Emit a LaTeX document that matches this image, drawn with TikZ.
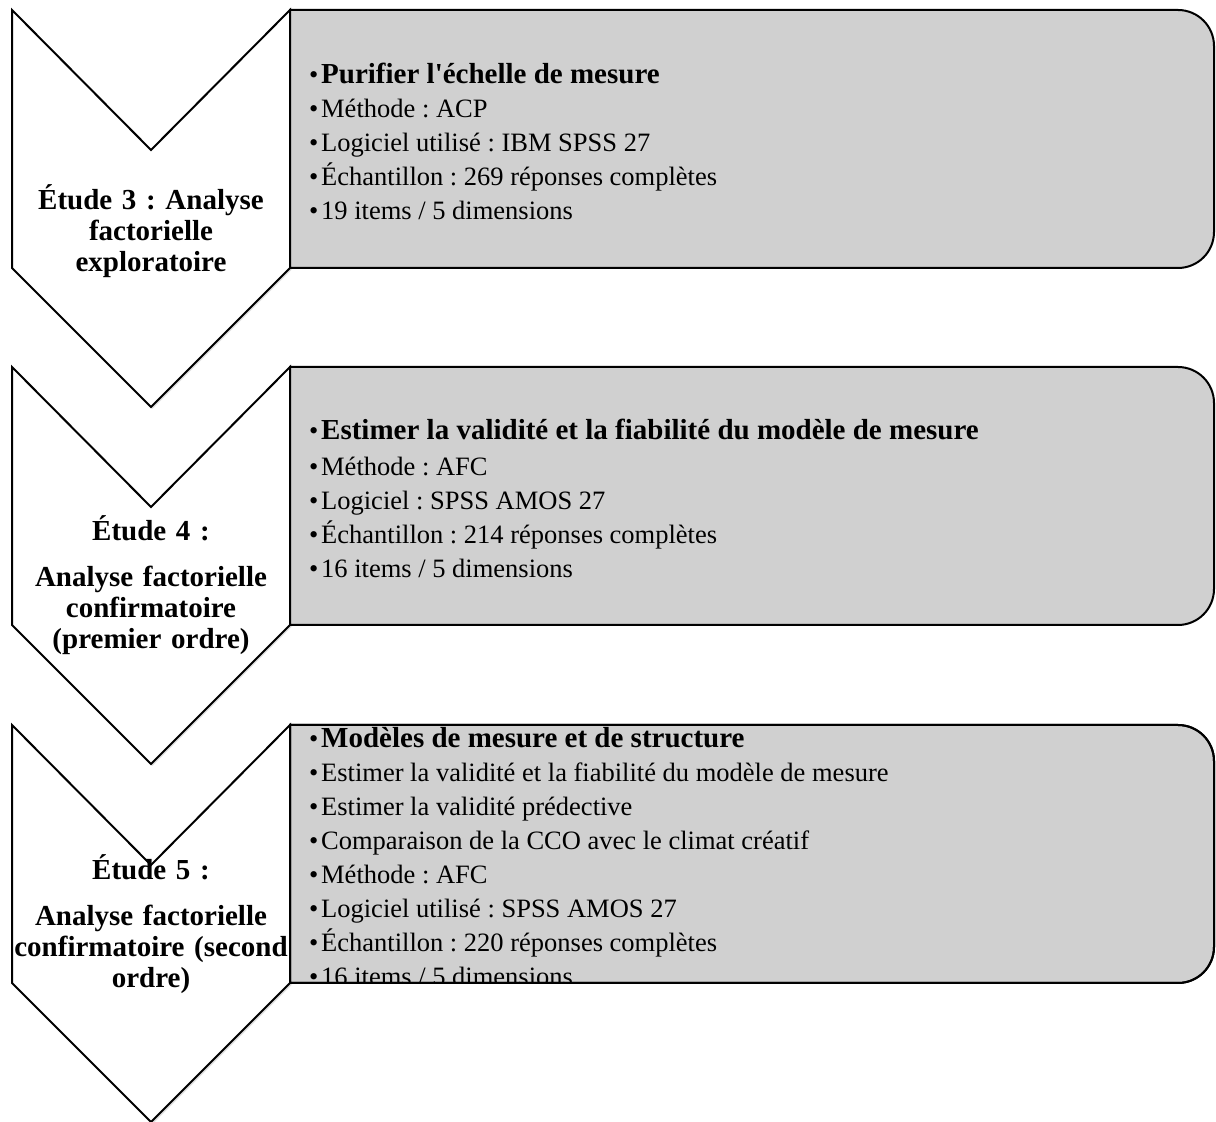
\documentclass[tikz,border=0pt]{standalone}
\usepackage{fontspec}
\setmainfont{Liberation Serif}
\usetikzlibrary{shadows}

\definecolor{boxgray}{RGB}{208,208,208}
\newcommand{\puce}[1]{\makebox[12pt][l]{\textbullet}#1}
\newcommand{\titre}[1]{\makebox[12pt][l]{\textbullet}{\bfseries\fontsize{29}{34}\selectfont #1}}
\newcommand{\boitechemin}[1]{(290,#1) -- (1178,#1) arc[start angle=90,end angle=0,radius=36pt] -- (1214,#1-222) arc[start angle=0,end angle=-90,radius=36pt] -- (290,#1-258) -- cycle}

\begin{document}
\frenchspacing
\begin{tikzpicture}[x=1pt, y=1pt,
    chevron/.style={draw, line width=2pt, fill=white, line join=miter,
      drop shadow={opacity=0.25, shadow xshift=1.5pt, shadow yshift=-2pt}},
    boite/.style={draw, line width=2pt, fill=boxgray},
    etape/.style={font=\bfseries\fontsize{29}{31}\selectfont, align=center, text width=290pt, inner sep=0pt},
    liste/.style={font=\fontsize{26.5}{34}\selectfont, align=left, anchor=west, inner sep=0pt}]
  \useasboundingbox (0,0) rectangle (1216,1122);

  % Chevrons
  \foreach \t in {1112,755,397}
    \draw[chevron] (12,\t) -- (151,\t-140) -- (290,\t) -- (290,\t-258) -- (151,\t-397) -- (12,\t-258) -- cycle;

  % Boites
  \foreach \t in {1112,755,397}
    \draw[boite] \boitechemin{\t};

  % Textes des boites
  \node[liste] (b3) at (309,981) {\titre{Purifier l\textquotesingle échelle de mesure}\\
    \puce{Méthode : ACP}\\
    \puce{Logiciel utilisé : IBM SPSS 27}\\
    \puce{Échantillon : 269 réponses complètes}\\
    \puce{19 items / 5 dimensions}};
  \node[liste] (b4) at (309,624) {\titre{Estimer la validité et la fiabilité du modèle de mesure}\\[2pt]
    \puce{Méthode : AFC}\\
    \puce{Logiciel : SPSS AMOS 27}\\
    \puce{Échantillon : 214 réponses complètes}\\
    \puce{16 items / 5 dimensions}};
  \begin{scope}
    \clip \boitechemin{397};
    \node[liste] (b5) at (309,265) {\titre{Modèles de mesure et de structure}\\
      \puce{Estimer la validité et la fiabilité du modèle de mesure}\\
      \puce{Estimer la validité prédective}\\
      \puce{Comparaison de la CCO avec le climat créatif}\\
      \puce{Méthode : AFC}\\
      \puce{Logiciel utilisé : SPSS AMOS 27}\\
      \puce{Échantillon : 220 réponses complètes}\\
      \puce{16 items / 5 dimensions}};
  \end{scope}
  \draw[line width=2pt] \boitechemin{397};

  % Etapes
  \node[etape] (e3) at (151,891) {Étude 3 : Analyse\\ factorielle\\ exploratoire};
  \node[etape] (e4) at (151,537) {Étude 4 :\\[15pt] Analyse factorielle\\ confirmatoire\\ (premier ordre)};
  \node[etape] (e5) at (151,198) {Étude 5 :\\[15pt] Analyse factorielle\\ confirmatoire (second\\ ordre)};
\end{tikzpicture}
\end{document}
